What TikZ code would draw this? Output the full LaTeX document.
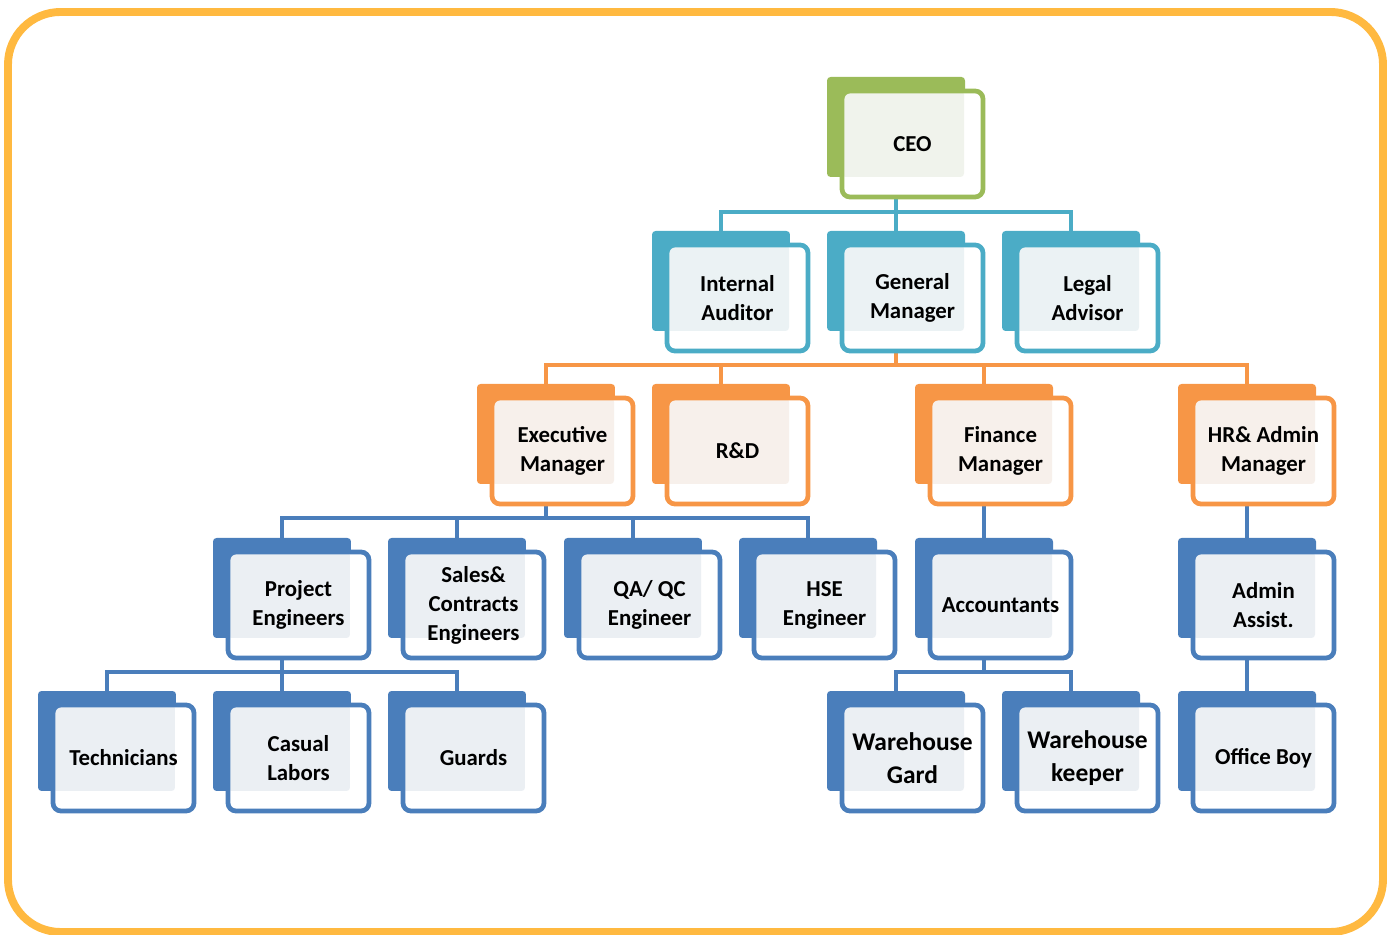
\documentclass[tikz,border=0pt]{standalone}
\usepackage{fontspec}
\setmainfont{Carlito}
\usepackage{xcolor}
\usetikzlibrary{positioning,calc,backgrounds}

\definecolor{ceogreen}{HTML}{9BBB59}
\definecolor{topteal}{HTML}{4BACC6}
\definecolor{midorange}{HTML}{F79646}
\definecolor{staffblue}{HTML}{4A7EBB}
\definecolor{framegold}{HTML}{FFB940}

% back tab + front card, x0/y0 = top left of the tab in px
\newcommand{\orgbox}[6][]{%
  \node[backbox=#5] (#2-b) at (#3+69,885-#4) {};
  \node[frontbox=#5,#1] (#2) at (#3+85.5,868-#4) {#6};
}

\begin{document}
\begin{tikzpicture}[
    x=0.02cm, y=0.02cm,
    font=\fontsize{13pt}{16.5pt}\selectfont\bfseries,
    backbox/.style={rectangle, rounded corners=2pt, fill=#1, minimum width=2.76cm, minimum height=2cm, inner sep=0pt},
    frontbox/.style={rectangle, rounded corners=4.5pt, draw=#1, line width=2.7pt, fill=white,
        minimum width=2.82cm, minimum height=2.12cm, inner sep=1pt, align=center,
        path picture={\fill[#1!7!white!97!black, rounded corners=2pt]
            (path picture bounding box.north west) rectangle ++(2.44cm,-1.72cm);}},
    link/.style={draw=#1, line width=2.6pt},
    whfont/.style={font=\fontsize{14.5pt}{19pt}\selectfont\bfseries}
]
    \useasboundingbox (0,0) rectangle (1395,935);
    \draw[framegold, line width=4.5pt, rounded corners=1.05cm] (8,3) rectangle (1383,923);

    \orgbox{ceo}{827}{77}{ceogreen}{CEO}
    \orgbox{ia}{652}{231}{topteal}{Internal\\Auditor}
    \orgbox{gm}{827}{231}{topteal}{General\\Manager}
    \orgbox{la}{1002}{231}{topteal}{Legal\\Advisor}
    \orgbox{em}{477}{384}{midorange}{Executive\\Manager}
    \orgbox{rd}{652}{384}{midorange}{R\&D}
    \orgbox{fm}{915}{384}{midorange}{Finance\\Manager}
    \orgbox{hr}{1178}{384}{midorange}{HR\& Admin\\Manager}
    \orgbox{pe}{213}{538}{staffblue}{Project\\Engineers}
    \orgbox{sc}{388}{538}{staffblue}{Sales\&\\Contracts\\Engineers}
    \orgbox{qa}{564}{538}{staffblue}{QA/ QC\\Engineer}
    \orgbox{hse}{739}{538}{staffblue}{HSE\\Engineer}
    \orgbox{acc}{915}{538}{staffblue}{Accountants}
    \orgbox{aa}{1178}{538}{staffblue}{Admin\\Assist.}
    \orgbox{tech}{38}{691}{staffblue}{Technicians}
    \orgbox{cl}{213}{691}{staffblue}{Casual\\Labors}
    \orgbox{gu}{388}{691}{staffblue}{Guards}
    \orgbox[whfont]{wg}{827}{691}{staffblue}{Warehouse\\Gard}
    \orgbox[whfont]{wk}{1002}{691}{staffblue}{Warehouse\\keeper}
    \orgbox{ob}{1178}{691}{staffblue}{Office Boy}

    \begin{scope}[on background layer]
        \coordinate (bar1) at (0,723);
        \coordinate (bar2) at (0,570);
        \coordinate (bar3) at (0,417);
        \coordinate (bar4) at (0,263);
        % CEO
        \draw[link=topteal] (ceo-b |- ceo.south) -- (gm-b.north);
        \draw[link=topteal] (ia-b.north) |- (la-b |- bar1) -- (la-b.north);
        % General Manager
        \draw[link=midorange] (gm-b |- gm.south) -- (gm-b |- bar2);
        \draw[link=midorange] (em-b.north) |- (hr-b |- bar2) -- (hr-b.north);
        \foreach \k in {rd,fm}
            \draw[link=midorange] (\k-b.north) -- (\k-b |- bar2);
        % Executive Manager
        \draw[link=staffblue] (em-b |- em.south) -- (em-b |- bar3);
        \draw[link=staffblue] (pe-b.north) |- (hse-b |- bar3) -- (hse-b.north);
        \foreach \k in {sc,qa}
            \draw[link=staffblue] (\k-b.north) -- (\k-b |- bar3);
        \draw[link=staffblue] (fm-b |- fm.south) -- (acc-b.north);
        \draw[link=staffblue] (hr-b |- hr.south) -- (aa-b.north);
        % bottom row
        \draw[link=staffblue] (pe-b |- pe.south) -- (cl-b.north);
        \draw[link=staffblue] (tech-b.north) |- (gu-b |- bar4) -- (gu-b.north);
        \draw[link=staffblue] (acc-b |- acc.south) -- (acc-b |- bar4);
        \draw[link=staffblue] (wg-b.north) |- (wk-b |- bar4) -- (wk-b.north);
        \draw[link=staffblue] (aa-b |- aa.south) -- (ob-b.north);
    \end{scope}
\end{tikzpicture}
\end{document}
